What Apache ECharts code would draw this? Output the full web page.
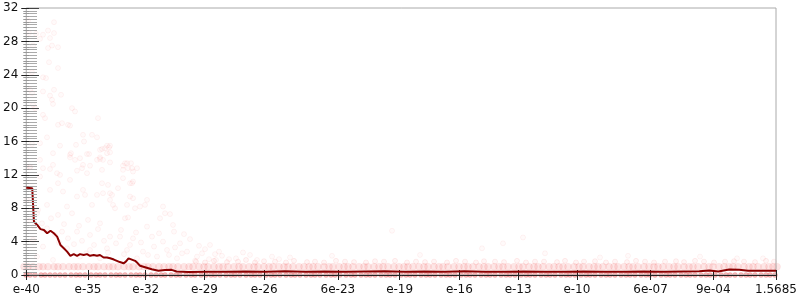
<!DOCTYPE html>
<html><head><meta charset="utf-8">
<script src="https://cdn.jsdelivr.net/npm/echarts@6/dist/echarts.min.js"></script>
<style>html,body{margin:0;padding:0;background:#fff}.c{position:absolute;left:0;top:0;width:800px;height:300px}</style>
</head><body><div id="pts" class="c"></div><div id="main" class="c"></div><div id="right" class="c"></div>
<script>
// x axis: rank positions of tick labels and their text
const xTicks = [0, 62, 120, 179, 239, 313, 375, 435, 494, 553, 627, 690, 753];
const xTickLabels = ['e-40','e-35','e-32','e-29','e-26','6e-23','e-19','e-16','e-13','e-10','6e-07','9e-04','1.5685'];

// running mean line [rank, value]
const lineData = [[0,10.45],[6,10.4],[7.7,6.4],[11,6.0],[14.3,5.5],[17.7,5.4],[21,5.0],[24.3,5.3],[27.7,5.0],[31,4.6],[34.3,3.6],[37.7,3.2],[41,2.8],[44.3,2.3],[47.7,2.5],[51,2.3],[54,2.5],[57.7,2.4],[61,2.5],[64,2.3],[67.7,2.4],[71,2.3],[74,2.4],[77.7,2.1],[81,2.1],[84.3,2.0],[88,1.85],[91,1.7],[94,1.55],[97.7,1.4],[100,1.6],[102.7,2.0],[106,1.85],[109.3,1.7],[112,1.4],[114.3,1.1],[119.3,0.92],[126,0.68],[132.7,0.52],[139.3,0.6],[146,0.62],[151,0.42],[163,0.35],[180,0.4],[200,0.38],[220,0.42],[240,0.4],[260,0.45],[280,0.4],[300,0.42],[320,0.38],[340,0.42],[360,0.45],[380,0.4],[400,0.42],[420,0.4],[440,0.44],[460,0.4],[480,0.38],[500,0.42],[520,0.4],[540,0.38],[560,0.42],[580,0.4],[600,0.4],[620,0.42],[640,0.38],[660,0.42],[676,0.45],[686,0.55],[695,0.42],[706,0.65],[716,0.62],[725,0.5],[740,0.52],[753,0.5]];

// individual observations [rank, value]
const cloudPoints = [[4,30.5],[30,30.3],[5,29],[12,28.9],[19,28.8],[24,29.3],[30,29],[16,28.3],[26,28.4],[9,27.5],[24,27.2],[28,27.5],[34,27.3],[25,25.5],[34,24.8],[8,24.3],[19,23.7],[22,23.6],[6,22.2],[8,21.8],[19,22],[30,22.2],[26,21.5],[37,21.6],[28,21],[29,20.5],[9,20.4],[11,20],[19,19.2],[21,18.8],[48,20],[51,19.6],[74,18.8],[38,18.2],[34,18],[44,18],[46,17.9],[59,16.8],[68,16.8],[73,16.5],[60,16],[23,16.5],[16,15.8],[8,15.7],[36,15.5],[52,15.6],[83,15.5],[86,15.5],[47,14.6],[56,14],[76,15],[65,14.5],[76,13.9],[86,13.5],[73,13.8],[16,13.8],[29,13.2],[46,14.1],[51,13.8],[59,13.2],[66,13.1],[99,13.1],[103,13.4],[108,12.8],[113,12.8],[6,12.9],[26,12.7],[33,12.2],[53,12.5],[63,12.2],[78,15.1],[81,15.2],[85,15.3],[83,14.6],[79,13.8],[101,13.4],[107,13.4],[78,12.6],[99,12.6],[104,12.8],[109,12.4],[99,11.6],[106,11],[109,11.2],[84,10.8],[94,10.4],[79,9.8],[88,9.6],[106,9.4],[109,9.2],[123,9],[86,9],[89,8.4],[103,8.4],[116,8.2],[121,8.4],[111,8],[141,7.4],[146,7.3],[101,6.8],[104,6.9],[136,6.8],
[29,14.6],[46,14.4],[63,14.5],[76,14.1],[86,14.7],[6,13],[19,12.8],[58,12.8],[16,11.8],[36,12],[46,11.4],[34,11],[59,10.2],[78,11],[108,11],[26,10.2],[39,10],[3,9],[53,9.4],[73,9.6],[86,9.8],[61,9.6],[23,8.4],[43,8.2],[68,8.4],[91,8],[139,8.2],[13,7.4],[34,7.2],[48,7.4],[64,6.6],[76,6.2],[123,5.8],[149,6],[23,5.6],[38,5.2],[53,5.2],[66,4.8],[86,4.6],[96,4.6],[109,4.4],[128,4.6],[139,4],[156,3.8],[9,4.2],[19,3.4],[43,3.2],[66,3],[83,3.2],[103,3],[119,2.8],[143,3],[163,2.8],[13,2.2],[56,2.2],[76,2],[113,2],[133,2.2],[153,2],[173,2.2],[29,1.8],
[5,6.5],[10,5.8],[14,7.8],[18,6.2],[27,6.8],[31,4.8],[35,3.9],[40,6.1],[44,4.4],[50,3.7],[55,5.9],[58,4.1],[62,2.6],[70,3.6],[74,5.5],[80,4.1],[84,2.7],[92,3.8],[97,5.4],[100,2.5],[106,3.6],[112,5.1],[117,3.9],[124,2.4],[130,3.4],[135,5.0],[145,2.4],[151,3.3],[158,2.6],[166,4.3],[171,1.7],[178,2.6],[186,3.6],[192,1.8],[198,2.3],[205,1.9],[226,2.4],[233,1.8],[248,2.2],[255,1.9],
[368,5.3],[308,2.3],[458,3.2],[212,2],[479,3.8],[499,4.5],[604,2.3],[713,2],[739,2],[219,2.7],[521,2.6],[396,2.4],[576,2.1],[676,2.2],[266,2.1],[191,2.5],[181,3.1],[160,4.9],[175,3.5],[150,5.2],[185,1.9],[195,2.8]];

const midPoints = [[172,1.6],[181,1.5],[190,1.7],[203,1.55],[214,1.6],[222,1.8],[231,1.5],[240,1.65],[251,1.6],[262,1.5],[270,1.7],[283,1.55],[291,1.6],[300,1.5],[312,1.7],[321,1.6],[330,1.55],[342,1.5],[351,1.65],[360,1.6],[371,1.7],[383,1.5],[392,1.6],[401,1.55],[410,1.6],[423,1.5],[432,1.7],[441,1.6],[452,1.5],[460,1.65],[471,1.6],[480,1.55],[493,1.7],[502,1.5],[511,1.6],[520,1.6],[533,1.55],[541,1.7],[552,1.5],[560,1.6],[571,1.65],[582,1.5],[591,1.6],[603,1.55],[612,1.7],[621,1.6],[630,1.5],[641,1.6],[652,1.65],[660,1.55],[671,1.7],[680,1.6],[690,1.5],[701,1.6],[710,1.65],[720,1.6],[731,1.55],[742,1.7],[750,1.6]];

// ranks of observations equal to 1 and to 0
const oneRanks = [0,4,9,15,19,24,30,34,39,45,50,54,59,65,70,74,80,85,89,94,100,105,109,115,120,124,129,135,140,145,149,154,160,165,169,175,180,184,190,195,199,204,210,215,219,225,230,234,240,245,249,255,260,264,269,275,280,285,289,294,300,305,309,315,320,324,329,335,340,344,350,355,359,364,370,375,380,384,389,395,400,404,410,415,419,424,430,435,440,444,449,455,460,464,470,475,479,484,490,495,499,505,510,514,519,525,530,535,539,544,550,555,559,565,570,574,579,585,590,594,600,605,609,614,620,625,630,634,639,645,650,654,660,665,669,674,680,685,689,695,700,705,709,714,720,725,729,734,740,745,749,753];
const zeroRanks = [2,6,11,17,21,26,31,36,41,47,52,56,61,67,72,76,81,87,92,96,101,107,112,116,121,127,132,137,141,147,152,156,162,167,171,177,182,187,191,196,202,207,211,216,222,227,231,236,242,247,251,256,262,267,271,276,282,287,291,296,302,307,311,316,322,327,331,337,342,346,351,357,362,366,371,377,382,386,391,397,402,406,411,417,422,426,431,437,442,446,451,457,462,466,471,477,482,486,491,497,502,506,511,517,522,526,531,537,542,546,551,557,562,566,571,577,582,586,591,597,602,606,611,617,622,626,631,637,642,646,651,657,662,666,671,677,682,686,691,697,702,706,711,717,722,726,731,737,742,746,751];

const FONT = 'DejaVu Sans';
const GRID = {left:24, right:23, top:8, bottom:25};
const labelFor = v => { const i = xTicks.indexOf(Math.round(v)); return i >= 0 ? xTickLabels[i] : ''; };

// layer 1: observation points (axes hidden, same scales)
echarts.init(document.getElementById('pts')).setOption({
  animation:false, backgroundColor:'#ffffff',
  grid:Object.assign({}, GRID),
  xAxis:{type:'value', min:0, max:753, show:false},
  yAxis:{type:'value', min:0, max:32, interval:4, show:false},
  series:[
    {type:'scatter', data:cloudPoints, symbolSize:5, silent:true,
     itemStyle:{color:'rgba(255,0,0,0.025)', borderColor:'rgba(235,0,0,0.06)', borderWidth:1}},
    {type:'scatter', data:midPoints, symbolSize:5, silent:true,
     itemStyle:{color:'rgba(255,0,0,0.05)', borderColor:'rgba(235,0,0,0.09)', borderWidth:1}},
    {type:'scatter', data:oneRanks.map(r => [r, 1]), symbolSize:7, silent:true,
     itemStyle:{color:'rgba(240,40,40,0.15)', borderColor:'rgba(230,0,0,0.05)', borderWidth:1}},
    {type:'scatter', data:zeroRanks.map(r => [r, 0]), symbolSize:5, silent:true,
     itemStyle:{color:'rgba(225,20,20,0.38)', borderColor:'rgba(200,0,0,0.15)', borderWidth:1}}
  ]
});

// layer 2: frame, bottom axis, left axis and the mean line (one y axis only)
echarts.init(document.getElementById('main')).setOption({
  animation:false, backgroundColor:'transparent',
  grid:Object.assign({show:true, borderColor:'#aaaaaa', borderWidth:1, backgroundColor:'transparent'}, GRID),
  xAxis:{type:'value', min:0, max:753, position:'bottom', offset:-5, splitLine:{show:false}, axisLine:{show:false},
     axisTick:{show:true, inside:false, length:10, customValues:xTicks, lineStyle:{color:'#222'}},
     axisLabel:{show:true, customValues:xTicks, formatter:labelFor, margin:14, color:'#111', fontFamily:FONT, fontSize:12}},
  yAxis:{type:'value', min:0, max:32, interval:4, position:'left', offset:-5, splitLine:{show:false}, axisLine:{show:false},
      axisTick:{show:true, inside:false, length:10, lineStyle:{color:'#222'}},
      minorTick:{show:true, splitNumber:12, length:8, lineStyle:{color:'#999'}},
      axisLabel:{margin:13, color:'#111', fontFamily:FONT, fontSize:12}},
  series:[
    {type:'line', data:lineData, showSymbol:false, symbol:'none', silent:true,
     lineStyle:{color:'#8b0000', width:2}, z:5,
     markLine:{silent:true, symbol:'none', label:{show:false}, animation:false,
       lineStyle:{color:'#222', width:1, type:'solid'}, data:[{yAxis:0}]}}
  ]
});

// layer 3: right-hand mirror axis
echarts.init(document.getElementById('right')).setOption({
  animation:false, backgroundColor:'transparent',
  grid:Object.assign({}, GRID),
  xAxis:{type:'value', min:0, max:753, show:false},
  yAxis:{type:'value', min:0, max:32, interval:4, position:'right', offset:-5, splitLine:{show:false}, axisLine:{show:false}, axisLabel:{show:false},
      axisTick:{show:true, inside:false, length:10, lineStyle:{color:'#444'}},
      minorTick:{show:true, splitNumber:12, length:8, lineStyle:{color:'#aaa'}}},
  series:[]
});
</script></body></html>
